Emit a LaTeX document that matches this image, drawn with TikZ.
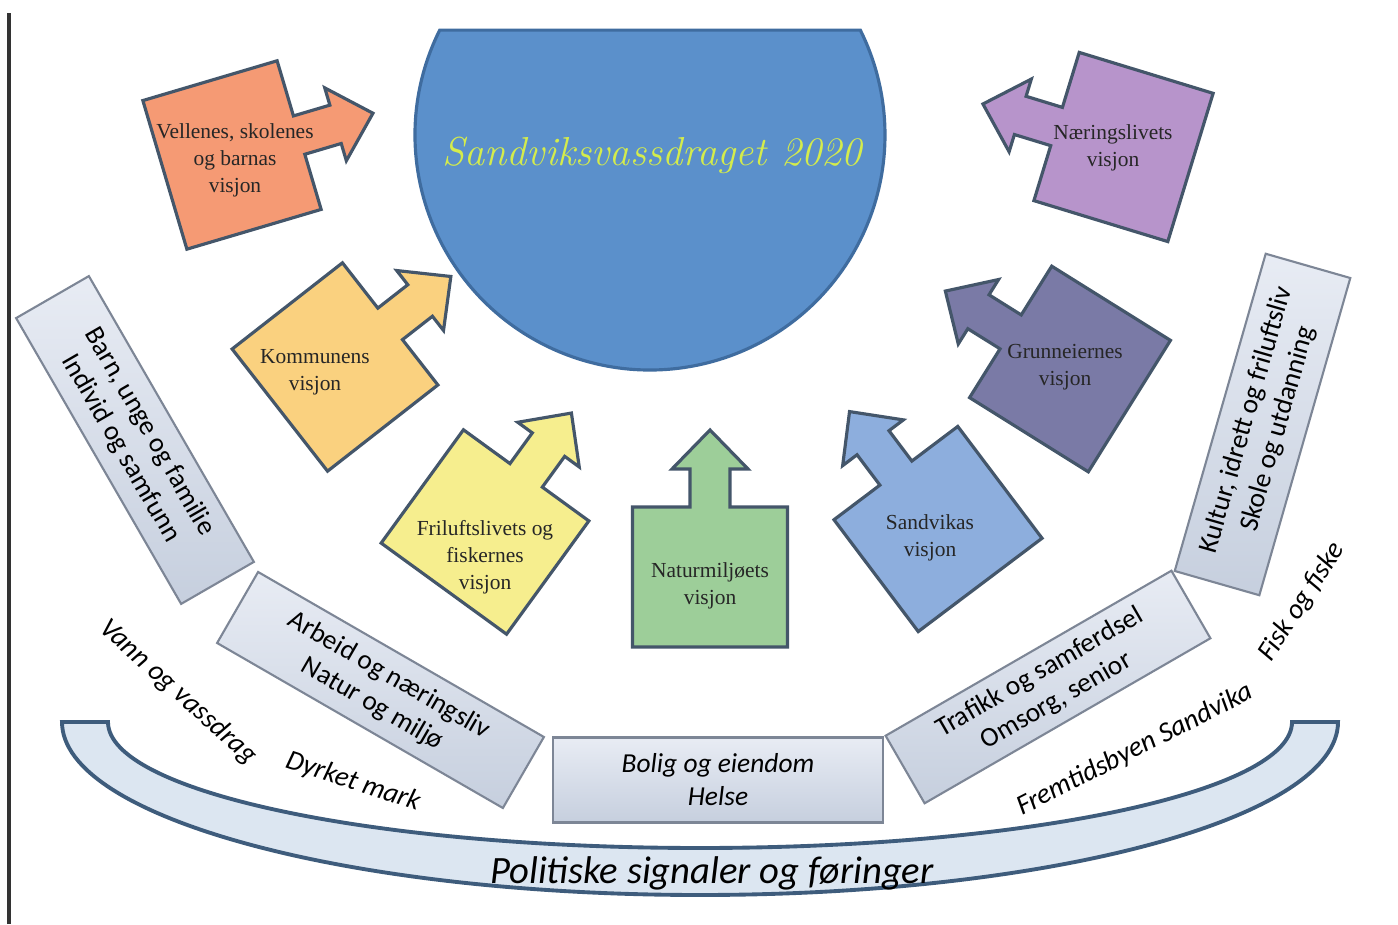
\documentclass[tikz,border=0pt]{standalone}
\usepackage{fontspec}
\newfontfamily\carlito{Carlito}
\newfontfamily\visjonfont{Liberation Serif}

\definecolor{kantgraa}{HTML}{44566A}
\definecolor{vellfarge}{HTML}{F59A74}
\definecolor{kommfarge}{HTML}{FAD17F}
\definecolor{frilfarge}{HTML}{F6EE8E}
\definecolor{natfarge}{HTML}{9DCE99}
\definecolor{sandfarge}{HTML}{8DAEDD}
\definecolor{grunnfarge}{HTML}{7A7AA6}
\definecolor{naerfarge}{HTML}{B794CB}
\definecolor{bollefarge}{HTML}{5B90CB}
\definecolor{bollekant}{HTML}{3F6C9F}
\definecolor{tittelfarge}{HTML}{D4EC4C}
\definecolor{boksrand}{HTML}{7D8696}
\definecolor{bokslys}{HTML}{E8ECF4}
\definecolor{boksmork}{HTML}{C6CFDE}
\definecolor{bandfarge}{HTML}{DCE6F1}
\definecolor{bandkant}{HTML}{3E5C7C}

\tikzset{
  visjonkant/.style={draw=kantgraa,line width=0.9pt,line join=miter},
  visjontekst/.style={align=center,inner sep=0pt,font=\visjonfont\fontsize{6.1}{7.7}\selectfont,text=black!85},
  boks/.style={draw=boksrand,line width=0.6pt,top color=bokslys,bottom color=boksmork,
    minimum width=3.3cm,minimum height=0.84cm,inner sep=1pt,align=center,
    font=\carlito\fontsize{7.8}{9.4}\selectfont},
  etikett/.style={inner sep=0pt,font=\carlito\itshape\fontsize{8}{9}\selectfont}
}

% square with arrow, arrow along local x
\newcommand{\visjonpil}[3]{%
  \begin{scope}[shift={#1},rotate=#2]
  \path[visjonkant,fill=#3] (-0.7,-0.775) -- (0.7,-0.775) -- (0.7,-0.2) -- (1.08,-0.2)
    -- (1.08,-0.38) -- (1.47,0) -- (1.08,0.38) -- (1.08,0.2) -- (0.7,0.2)
    -- (0.7,0.775) -- (-0.7,0.775) -- cycle;
  \end{scope}}

\begin{document}
\begin{tikzpicture}

\useasboundingbox[fill=white] (0,0) rectangle (13.98,9.24);

\path[draw=black!80,line width=1pt] (0.09,0) -- (0.09,9.11);

%band
\path[draw=bandkant,line width=1.1pt,fill=bandfarge]
  (0.62,2.02) arc[start angle=180,end angle=360,x radius=6.38,y radius=1.73]
  -- (12.92,2.02) arc[start angle=0,end angle=-180,x radius=5.92,y radius=1.26] -- cycle;
\node (politikk) at (7.12,0.51) {\carlito\itshape\fontsize{11}{13}\selectfont Politiske signaler og føringer};

%bolle
\path[draw=bollekant,line width=0.9pt,fill=bollefarge]
  ([shift={(6.5,7.89)}]153.5:2.35) arc[start angle=153.5,end angle=386.5,radius=2.35] -- cycle;
\node[text=tittelfarge] (tittel) at (6.52,7.69) {\itshape\fontsize{11.5}{13}\selectfont Sandviksvassdraget 2020};

%visjoner
\visjonpil{(2.32,7.69)}{16.5}{vellfarge}
\node[visjontekst] (vellenes) at (2.35,7.64) {Vellenes, skolenes\\og barnas\\visjon};

\visjonpil{(3.35,5.57)}{38}{kommfarge}
\node[visjontekst] (kommune) at (3.15,5.52) {Kommunens\\visjon};

\visjonpil{(4.85,3.92)}{54}{frilfarge}
\node[visjontekst] (friluft) at (4.85,3.67) {Friluftslivets og\\fiskernes\\visjon};

\visjonpil{(7.10,3.47)}{90}{natfarge}
\node[visjontekst] (natur) at (7.10,3.38) {Naturmiljøets\\visjon};

\visjonpil{(9.38,3.95)}{127}{sandfarge}
\node[visjontekst] (sandvika) at (9.30,3.86) {Sandvikas\\visjon};

\visjonpil{(10.70,5.55)}{148}{grunnfarge}
\node[visjontekst] (grunn) at (10.65,5.57) {Grunneiernes\\visjon};

\visjonpil{(11.235,7.77)}{163}{naerfarge}
\node[visjontekst] (naering) at (11.13,7.76) {Næringslivets\\visjon};

%bokser
\node[boks,rotate=-60] (barn) at (1.35,4.84) {Barn, unge og familie\\Individ og samfunn};
\node[boks,rotate=-30,minimum height=0.82cm] (arbeid) at (3.805,2.34) {Arbeid og næringsliv\\Natur og miljø};
\node[boks,minimum height=0.85cm,font=\carlito\itshape\fontsize{7.8}{9.4}\selectfont] (bolig) at (7.18,1.44) {Bolig og eiendom\\Helse};
\node[boks,rotate=30,minimum height=0.78cm] (trafikk) at (10.48,2.37) {Trafikk og samferdsel\\Omsorg, senior};
\node[boks,rotate=74,minimum height=0.88cm] (kultur) at (12.625,4.995) {Kultur, idrett og friluftsliv\\Skole og utdanning};

%etiketter
\node[etikett,rotate=-42] (vann) at (1.78,2.32) {Vann og vassdrag};
\node[etikett,rotate=-18] (dyrket) at (3.53,1.42) {Dyrket mark};
\node[etikett,rotate=27] (fremtid) at (11.35,1.74) {Fremtidsbyen Sandvika};
\node[etikett,rotate=57] (fisk) at (13.02,3.22) {Fisk og fiske};

\end{tikzpicture}
\end{document}
